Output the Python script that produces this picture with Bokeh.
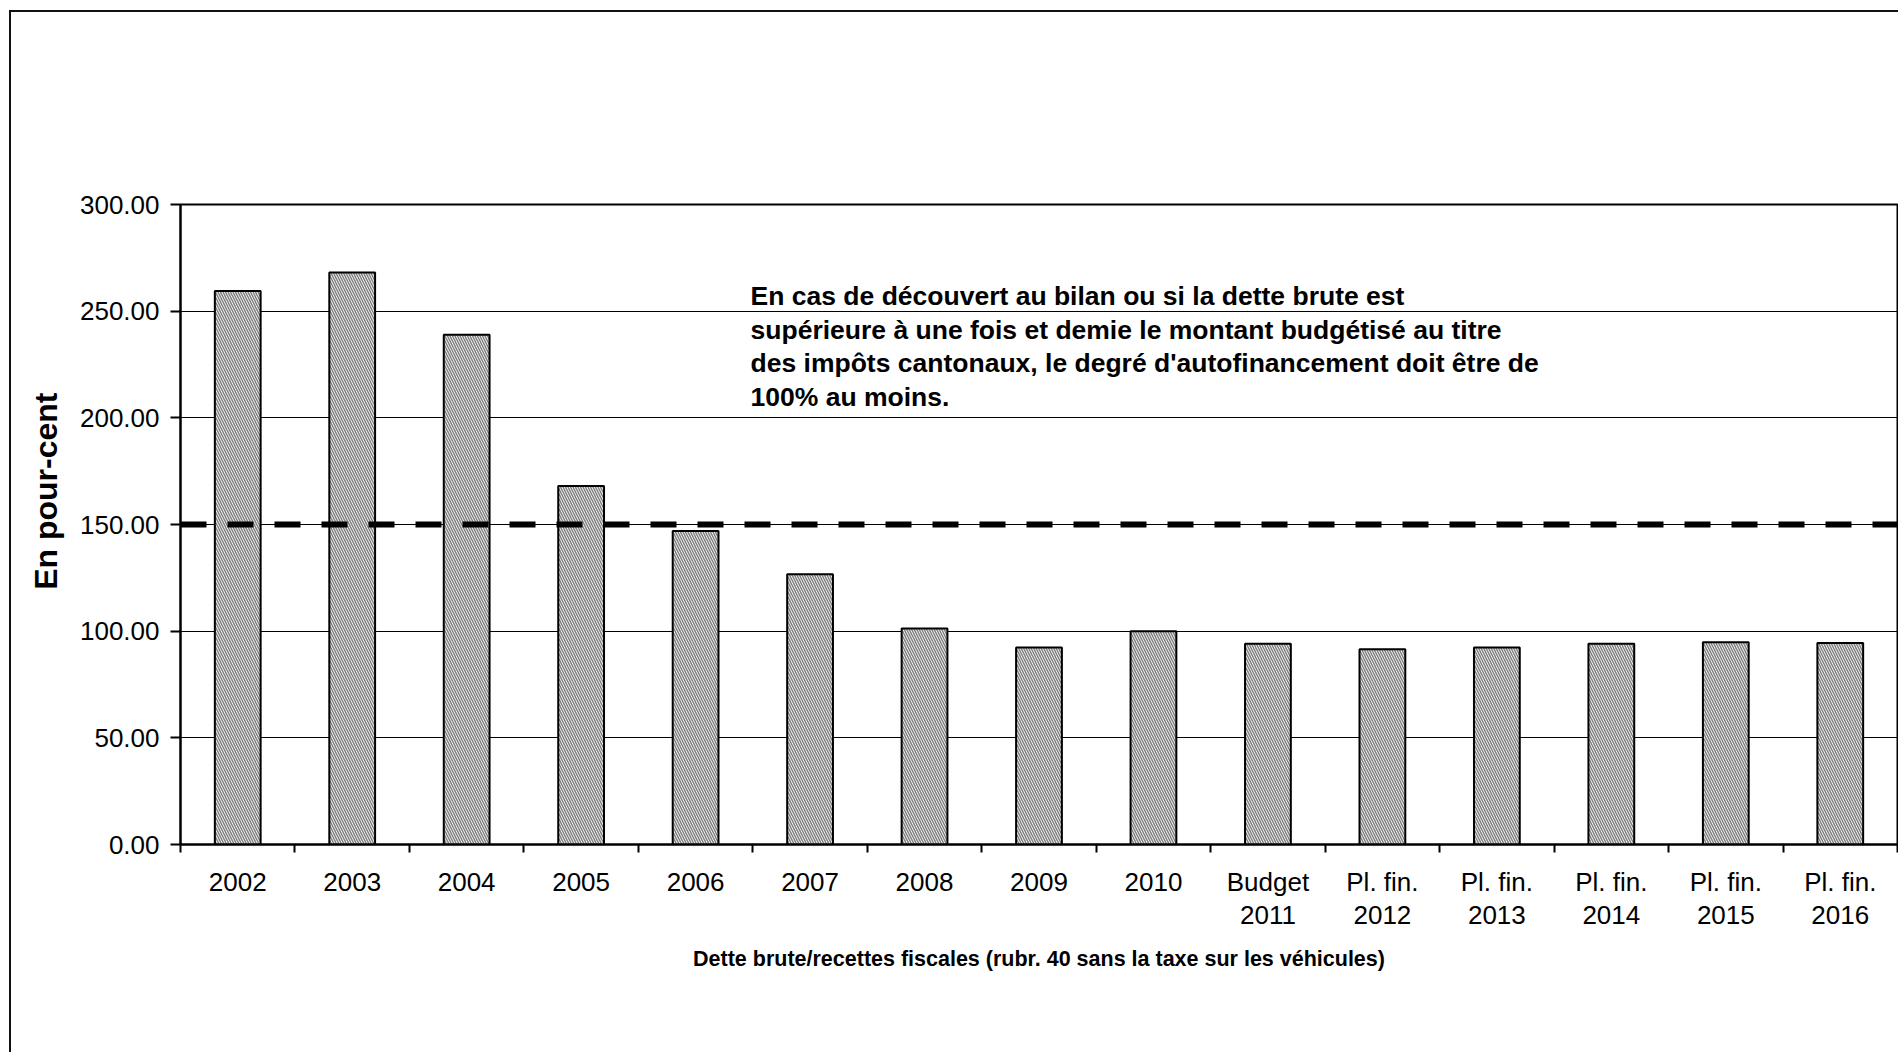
from bokeh.plotting import figure
from bokeh.models import Range1d, FixedTicker, NumeralTickFormatter, Span, Label, Title
from bokeh.embed import file_html
from bokeh.resources import INLINE

# ---- data ----
categories = ["2002", "2003", "2004", "2005", "2006", "2007", "2008", "2009", "2010",
              "Budget\n2011", "Pl. fin.\n2012", "Pl. fin.\n2013", "Pl. fin.\n2014",
              "Pl. fin.\n2015", "Pl. fin.\n2016"]
values = [259.4, 268.1, 239.0, 168.0, 146.9, 126.7, 101.3, 92.3, 100.0,
          94.1, 91.5, 92.3, 94.1, 94.8, 94.4]
y_ticks = [0, 50, 100, 150, 200, 250, 300]
threshold = 150
y_title = "En pour-cent"
x_title = "Dette brute/recettes fiscales (rubr. 40 sans la taxe sur les véhicules)"
note = ("En cas de découvert au bilan ou si la dette brute est\n"
        "supérieure à une fois et demie le montant budgétisé au titre\n"
        "des impôts cantonaux, le degré d'autofinancement doit être de\n"
        "100% au moins.")

FONT = "Liberation Sans"
idx = list(range(len(categories)))

p = figure(width=1889, height=1042, output_backend="svg", toolbar_location=None,
           x_range=Range1d(-0.5, len(categories) - 0.5), y_range=Range1d(y_ticks[0], y_ticks[-1]),
           min_border_left=169, min_border_right=3, min_border_top=192, min_border_bottom=210,
           background_fill_color="white", border_fill_color="white")
p.styles = {"margin-left": "9px", "margin-top": "10px",
            "border-left": "2px solid #111", "border-top": "2px solid #111"}
p.outline_line_color = "black"
p.outline_line_width = 2

# bars
p.vbar(x=idx, top=values, width=0.4, bottom=0,
       fill_color="white", line_color="black", line_width=2,
       hatch_pattern="\\", hatch_color="#808080", hatch_scale=5, hatch_weight=1.5)

# threshold dashed line
p.add_layout(Span(location=threshold, dimension="width", line_color="black",
                  line_width=6, line_dash="26 21"))

# annotation
p.add_layout(Label(x=4.48, y=264, text=note, text_font=FONT, text_font_size="26.5px",
                   text_font_style="bold", text_color="black", text_baseline="top",
                   text_align="left", text_line_height=1.12))

# y-axis title, placed above the frame centre as in the reference
p.add_layout(Title(text=y_title, align="right", offset=188, standoff=26,
                   text_font=FONT, text_font_size="32px", text_font_style="bold",
                   text_color="black"), "left")

# y axis
ya = p.yaxis[0]
ya.ticker = FixedTicker(ticks=y_ticks)
ya.formatter = NumeralTickFormatter(format="0.00")
ya.axis_line_width = 2
ya.major_tick_line_width = 2
ya.major_tick_out = 10
ya.major_tick_in = 0
ya.minor_tick_line_color = None
ya.major_label_text_font = FONT
ya.major_label_text_font_size = "26px"
ya.major_label_text_color = "black"
ya.major_label_standoff = 11

# x axis
xa = p.xaxis[0]
xa.ticker = FixedTicker(ticks=idx, minor_ticks=[i - 0.5 for i in range(len(categories) + 1)])
xa.major_label_overrides = {i: c for i, c in zip(idx, categories)}
xa.axis_line_width = 2
xa.major_tick_out = 0
xa.major_tick_in = 0
xa.major_tick_line_color = None
xa.minor_tick_out = 8
xa.minor_tick_in = 0
xa.minor_tick_line_width = 2
xa.minor_tick_line_color = "black"
xa.major_label_text_font = FONT
xa.major_label_text_font_size = "26px"
xa.major_label_text_color = "black"
xa.major_label_text_line_height = 1.1
xa.major_label_standoff = 14
xa.axis_label = x_title
xa.axis_label_text_font = FONT
xa.axis_label_text_font_size = "21.5px"
xa.axis_label_text_font_style = "bold"
xa.axis_label_text_color = "black"
xa.axis_label_standoff = 14

p.xgrid.grid_line_color = None
p.ygrid.grid_line_color = "black"
p.ygrid.grid_line_width = 1

open("out.html", "w").write(file_html(p, INLINE))
